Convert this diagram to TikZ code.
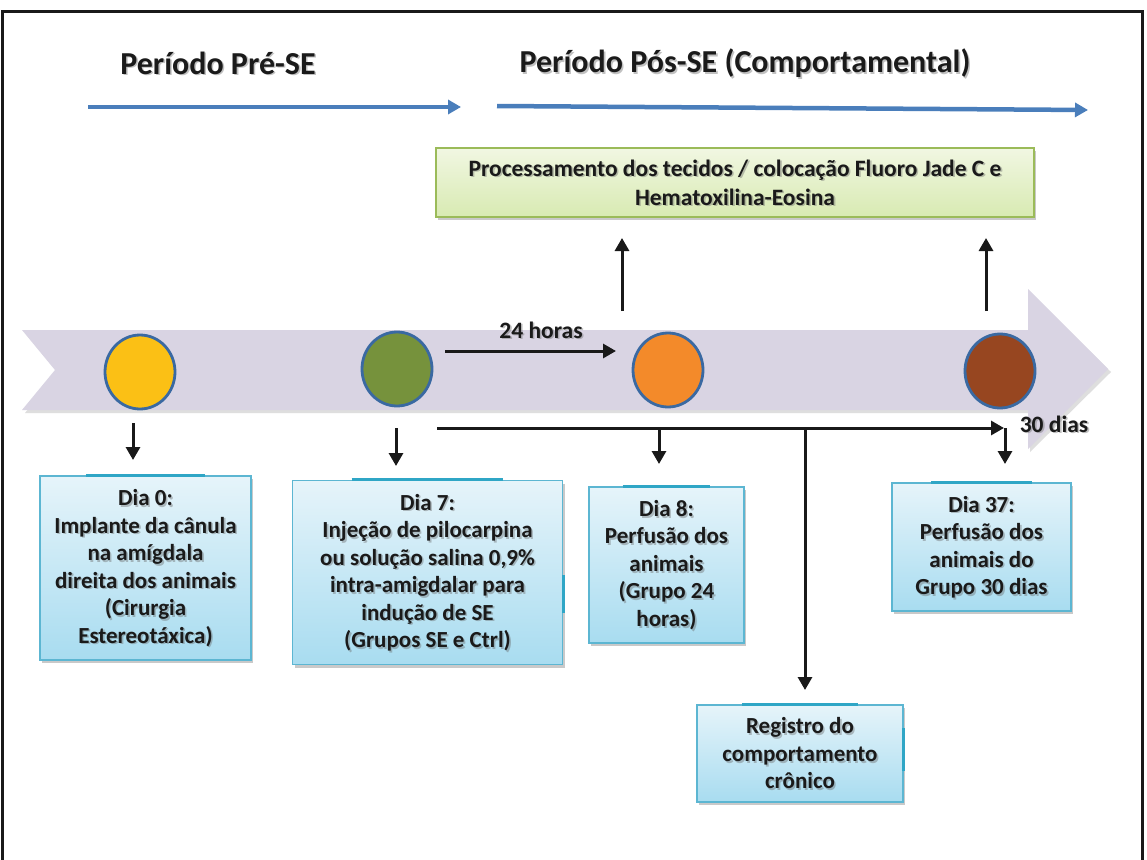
\documentclass[tikz,border=0pt]{standalone}
\usepackage{fontspec}
\setmainfont{Carlito}
\usetikzlibrary{arrows.meta,shapes.geometric,shadows,calc}
\definecolor{bandc}{HTML}{D9D4E3}
\definecolor{bluearr}{HTML}{4A7EBB}
\definecolor{circedge}{HTML}{3A69A2}
\definecolor{cyel}{HTML}{FBC015}
\definecolor{cgrn}{HTML}{76923C}
\definecolor{corg}{HTML}{F38A2A}
\definecolor{cbrn}{HTML}{974620}
\definecolor{boxtop}{HTML}{E6F4FA}
\definecolor{boxbot}{HTML}{A8DCF0}
\definecolor{boxedge}{HTML}{5CB6D2}
\definecolor{boxhl}{HTML}{2FA6C6}
\definecolor{gtop}{HTML}{F1F7E2}
\definecolor{gbot}{HTML}{D8EAB2}
\definecolor{gedge}{HTML}{9BBB59}
\definecolor{txt}{HTML}{1A1A1A}
\newcommand\shtext[4]{%
  \node[#3, text=black!60, opacity=0.4, xshift=1.6pt, yshift=-1.8pt] at (#2) {#4};
  \node[#3] (#1) at (#2) {#4};}
\begin{document}
\begin{tikzpicture}[x=1pt,y=-1pt,
  boxstyle/.style={draw=boxedge, line width=1.3pt, top color=boxtop, bottom color=boxbot,
    inner sep=0pt,
    drop shadow={shadow xshift=2pt, shadow yshift=-3pt, opacity=0.35, fill=black!60}},
  boxtxt/.style={align=center, text=txt, font=\fontsize{23}{27.5}\selectfont\bfseries, inner sep=0pt},
  gbox/.style={draw=gedge, line width=1.3pt, top color=gtop, bottom color=gbot, inner sep=0pt,
    drop shadow={shadow xshift=2pt, shadow yshift=-3pt, opacity=0.35, fill=black!60}},
  gtxt/.style={align=center, text=txt, font=\fontsize{23.5}{29}\selectfont\bfseries, inner sep=0pt},
  circ/.style={ellipse, draw=circedge, line width=2.8pt, minimum width=70, minimum height=74, inner sep=0pt},
  blk/.style={draw=black!90, line width=3pt, -{Triangle[length=13pt,width=14pt]}},
  bluea/.style={draw=bluearr, line width=4.5pt, -{Triangle[length=13pt,width=14pt]}},
  titletxt/.style={text=txt, font=\fontsize{32}{38}\selectfont\bfseries, inner sep=0pt},
  lbl/.style={text=txt, font=\fontsize{23.5}{27}\selectfont\bfseries, inner sep=0pt},
  hl/.style={draw=boxhl, line width=3pt}
]
\useasboundingbox (0,0) rectangle (1147,859);
\fill[white] (0,0) rectangle (1147,859);
% frame
\draw[line width=3pt, black!90] (2,862) -- (2,12) -- (1142,12) -- (1142,862);

% titles
\shtext{t1}{218,63}{titletxt}{Período Pré-SE}
\shtext{t2}{745,63}{titletxt}{Período Pós-SE (Comportamental)}
\coordinate (b1s) at (88,107);
\coordinate (b1e) at (461,107);
\coordinate (b2s) at (497,106);
\coordinate (b2e) at (1088,110);
\draw[bluea] (b1s) -- (b1e);
\draw[bluea] (b2s) -- (b2e);

% green box
\node[gbox, minimum width=598, minimum height=69] (proc) at (735,182.5) {};
\shtext{proct}{proc.center}{gtxt}{Processamento dos tecidos / colocação Fluoro Jade C e\\Hematoxilina-Eosina}

% timeline band
\fill[black!25, opacity=0.5] (25,333) -- (1030,333) -- (1030,292) -- (1111,372) -- (1030,452) -- (1030,413) -- (25,413) -- (58,373) -- cycle;
\fill[bandc] (22,330) -- (1028,330) -- (1028,289) -- (1108,369) -- (1028,449) -- (1028,410) -- (22,410) -- (55,370) -- cycle;

% circles
\node[circ, fill=cyel] (c0) at (140,372) {};
\node[circ, fill=cgrn] (c1) at (397,369) {};
\node[circ, fill=corg] (c2) at (668,370) {};
\node[circ, fill=cbrn] (c3) at (1000,371) {};

% up arrows
\coordinate (u1) at (622,311);
\coordinate (u2) at (986,311);
\draw[blk] (u1) -- (u1 |- 0,238);
\draw[blk] (u2) -- (u2 |- 0,238);

% 24 horas
\coordinate (h1) at (445,351);
\coordinate (h2) at (616,351);
\draw[blk] (h1) -- (h2);
\shtext{h24}{541,330}{lbl}{24 horas}

% lower long arrow
\coordinate (l1) at (437,428);
\coordinate (l2) at (1004,428);
\coordinate (lv) at (805,428);
\draw[blk] (l1) -- (l2);
\shtext{d30}{1054,424}{lbl}{30 dias}

% boxes
\node[boxstyle, minimum width=211, minimum height=184] (d0) at (145.5,568) {};
\node[boxstyle, minimum width=270, minimum height=184] (d7) at (427.5,572.5) {};
\node[boxstyle, minimum width=155, minimum height=156] (d8) at (666.5,565) {};
\node[boxstyle, minimum width=179, minimum height=128] (d37) at (981.5,547) {};
\node[boxstyle, minimum width=206, minimum height=97] (reg) at (800,753.5) {};

% highlights on edges
\foreach \b in {d0,d7,d8,d37,reg}{
  \draw[hl] ($(\b.north west)!0.22!(\b.north east)$) -- ($(\b.north west)!0.78!(\b.north east)$);
}
\draw[hl] ([yshift=-40pt]d7.east) -- ([yshift=-2pt]d7.east);
\draw[hl] ([yshift=-17pt]reg.east) -- ([yshift=26pt]reg.east);

\shtext{d0t}{d0.center}{boxtxt}{Dia 0:\\Implante da cânula\\na amígdala\\direita dos animais\\(Cirurgia\\Estereotáxica)}
\shtext{d7t}{d7.center}{boxtxt}{Dia 7:\\Injeção de pilocarpina\\ou solução salina 0,9\%\\intra-amigdalar para\\indução de SE\\(Grupos SE e Ctrl)}
\shtext{d8t}{d8.center}{boxtxt}{Dia 8:\\Perfusão dos\\animais\\(Grupo 24\\horas)}
\shtext{d37t}{d37.center}{boxtxt}{Dia 37:\\Perfusão dos\\animais do\\Grupo 30 dias}
\shtext{regt}{reg.center}{boxtxt}{Registro do\\comportamento\\crônico}

% down arrows
\coordinate (a0) at (133,423);
\coordinate (a1) at (396,428);
\coordinate (a2) at (659,428);
\coordinate (a3) at (1005,428);
\draw[blk] (a0) -- (a0 |- 0,460);
\draw[blk] (a1) -- (a1 |- 0,466);
\draw[blk] (a2) -- (a2 |- 0,464);
\draw[blk] (a3) -- (a3 |- 0,464);
\draw[blk] (lv) -- (lv |- 0,690);
\end{tikzpicture}
\end{document}
